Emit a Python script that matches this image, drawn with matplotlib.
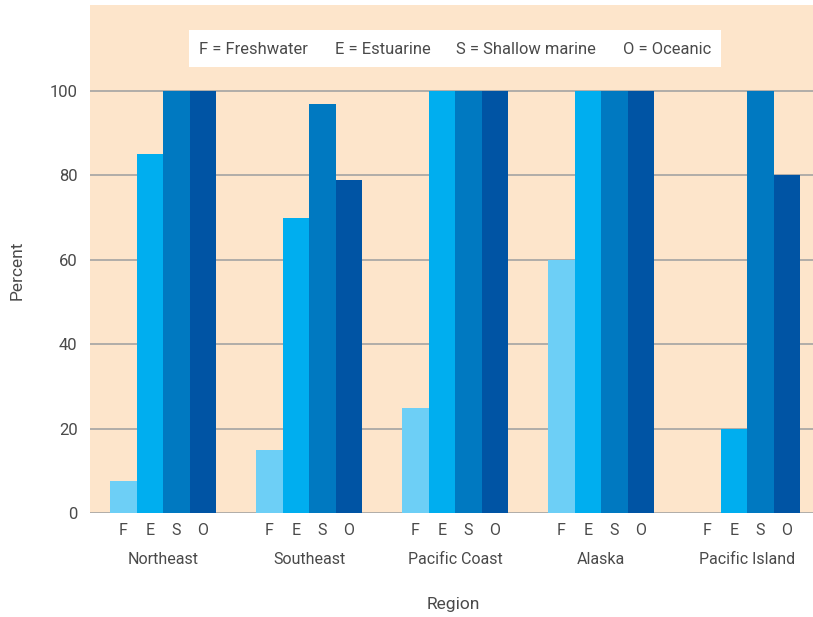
import matplotlib
matplotlib.use("Agg")
import matplotlib.pyplot as plt
from matplotlib.patches import Rectangle
import numpy as np

plt.rcParams['font.family'] = ['Roboto', 'DejaVu Sans']

regions = ["Northeast", "Southeast", "Pacific Coast", "Alaska", "Pacific Island"]
codes = ["F", "E", "S", "O"]
freshwater = [7.5, 15, 25, 60, 0]
estuarine = [85, 70, 100, 100, 20]
shallow_marine = [100, 97, 100, 100, 100]
oceanic = [100, 79, 100, 100, 80]
legend_labels = ["F = Freshwater", "E = Estuarine", "S = Shallow marine", "O = Oceanic"]
yticks = [0, 20, 40, 60, 80, 100]

series = [freshwater, estuarine, shallow_marine, oceanic]
colors = ["#6DCFF6", "#00AEEF", "#0079C1", "#0054A4"]
text_color = "#4a4a4a"

fig = plt.figure(figsize=(8.13, 6.17), dpi=100)
ax = fig.add_axes([90/813, 104/617, 723/813, 508/617])
ax.set_facecolor("#FDE5CB")

x = np.arange(len(regions))
w = 0.1815
offsets = (np.arange(4) - 1.5) * w
for vals, off, c in zip(series, offsets, colors):
    ax.bar(x + off, vals, width=w, color=c, zorder=2, linewidth=0)

ax.set_xlim(-0.5, 4.452)
ax.set_ylim(0, 120.4)
ax.set_yticks(yticks)
ax.set_yticklabels([str(t) for t in yticks], fontsize=12, color=text_color)
ax.yaxis.grid(True, color="#A3A3A3", linewidth=1.2, zorder=1)
ax.set_axisbelow(True)
ax.tick_params(axis='y', length=0, pad=9)
for s in ax.spines.values():
    s.set_visible(False)

# sub-tick labels F E S O
xt = np.concatenate([x + off for off in offsets])
xl = [c for c in codes for _ in regions]
order = np.argsort(xt)
ax.set_xticks(xt[order])
ax.set_xticklabels([xl[i] for i in order], fontsize=11.5, color=text_color)
ax.tick_params(axis='x', length=0, pad=7.5)

for xi, r in zip(x, regions):
    ax.text(xi, -11.1, r, ha='center', va='center', fontsize=11.5, color=text_color,
            transform=ax.transData, clip_on=False)

fig.text(453/813, 1 - 605/617, "Region", ha='center', va='center', fontsize=12.5, color=text_color)
fig.text(17/813, 1 - 270/617, "Percent", ha='center', va='center', fontsize=12.5,
         color=text_color, rotation=90)

# legend box
fig.patches.append(Rectangle((189/813, 1 - 67/617), (721-189)/813, 37/617,
                             transform=fig.transFigure, facecolor="white",
                             edgecolor="none", zorder=5))
lx = [199, 335, 456, 623]
for px, lab in zip(lx, legend_labels):
    fig.text(px/813, 1 - 49/617, lab, ha='left', va='center', fontsize=11.9,
             color=text_color, zorder=6)

fig.savefig("out.png", dpi=100)
